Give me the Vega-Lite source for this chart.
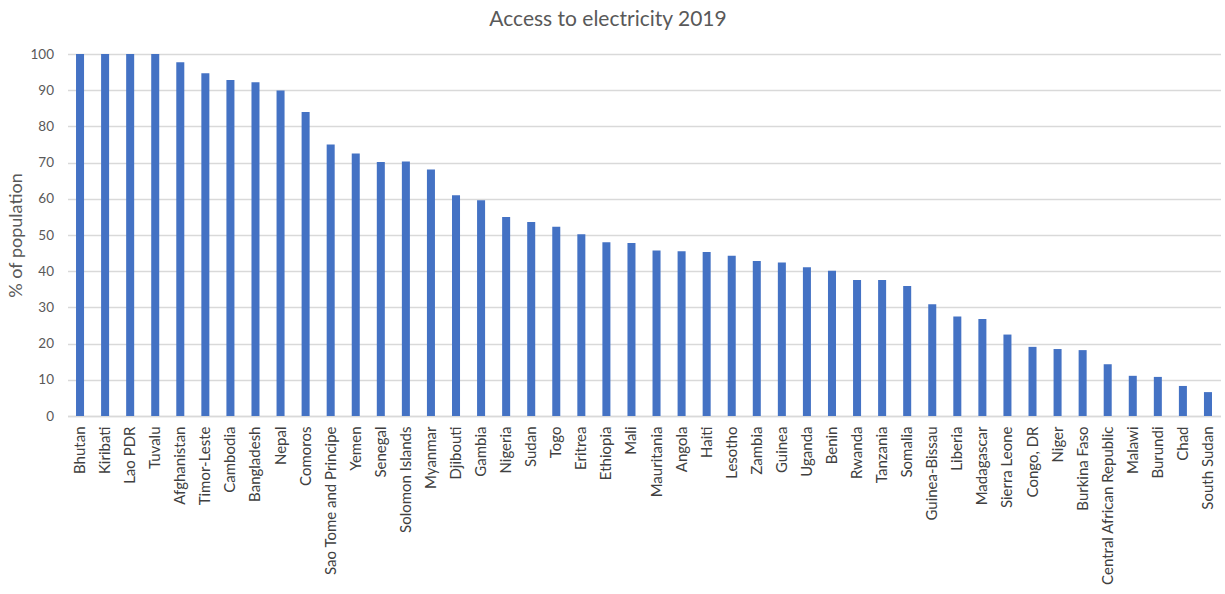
{
  "$schema": "https://vega.github.io/schema/vega-lite/v6.json",
  "width": 1153,
  "height": 362,
  "autosize": "none",
  "padding": {"left": 67.5, "top": 54, "right": 4.5, "bottom": 178},
  "background": "white",
  "title": {"text": "Access to electricity 2019", "font": "Lato", "fontSize": 21, "fontWeight": "normal", "color": "#595959", "offset": 17, "dx": -36},
  "config": {"view": {"stroke": null}},
  "data": {"values": [
    {"country": "Bhutan", "value": 100},
    {"country": "Kiribati", "value": 100},
    {"country": "Lao PDR", "value": 100},
    {"country": "Tuvalu", "value": 100},
    {"country": "Afghanistan", "value": 97.7},
    {"country": "Timor-Leste", "value": 94.7},
    {"country": "Cambodia", "value": 92.8},
    {"country": "Bangladesh", "value": 92.2},
    {"country": "Nepal", "value": 89.9},
    {"country": "Comoros", "value": 84.0},
    {"country": "Sao Tome and Principe", "value": 75.0},
    {"country": "Yemen", "value": 72.5},
    {"country": "Senegal", "value": 70.2},
    {"country": "Solomon Islands", "value": 70.3},
    {"country": "Myanmar", "value": 68.1},
    {"country": "Djibouti", "value": 61.0},
    {"country": "Gambia", "value": 59.6},
    {"country": "Nigeria", "value": 55.0},
    {"country": "Sudan", "value": 53.6},
    {"country": "Togo", "value": 52.3},
    {"country": "Eritrea", "value": 50.2},
    {"country": "Ethiopia", "value": 48.0},
    {"country": "Mali", "value": 47.8},
    {"country": "Mauritania", "value": 45.7},
    {"country": "Angola", "value": 45.5},
    {"country": "Haiti", "value": 45.3},
    {"country": "Lesotho", "value": 44.3},
    {"country": "Zambia", "value": 42.8},
    {"country": "Guinea", "value": 42.4},
    {"country": "Uganda", "value": 41.1},
    {"country": "Benin", "value": 40.1},
    {"country": "Rwanda", "value": 37.6},
    {"country": "Tanzania", "value": 37.6},
    {"country": "Somalia", "value": 35.9},
    {"country": "Guinea-Bissau", "value": 30.9},
    {"country": "Liberia", "value": 27.5},
    {"country": "Madagascar", "value": 26.8},
    {"country": "Sierra Leone", "value": 22.5},
    {"country": "Congo, DR", "value": 19.1},
    {"country": "Niger", "value": 18.5},
    {"country": "Burkina Faso", "value": 18.2},
    {"country": "Central African Republic", "value": 14.3},
    {"country": "Malawi", "value": 11.1},
    {"country": "Burundi", "value": 10.8},
    {"country": "Chad", "value": 8.3},
    {"country": "South Sudan", "value": 6.6}
  ]},
  "mark": {"type": "bar", "color": "#4472C4"},
  "encoding": {
    "x": {
      "field": "country", "type": "nominal", "sort": null,
      "scale": {"paddingInner": 0.68, "paddingOuter": 0.34},
      "axis": {"title": null, "labelAngle": -90, "labelFont": "Lato", "labelFontSize": 15, "labelColor": "#404040", "labelPadding": 10, "ticks": false, "domainColor": "#D9D9D9", "domainWidth": 1.5, "labelOverlap": false, "labelLimit": 250}
    },
    "y": {
      "field": "value", "type": "quantitative",
      "scale": {"domain": [0, 100], "nice": false},
      "axis": {"title": "% of population", "titleFont": "Lato", "titleFontSize": 18, "titleFontWeight": "normal", "titleColor": "#595959", "titlePadding": 5, "values": [0,10,20,30,40,50,60,70,80,90,100], "labelFont": "Lato", "labelFontSize": 13.5, "labelColor": "#595959", "labelPadding": 14, "ticks": false, "domain": false, "gridColor": "#D9D9D9", "gridWidth": 1.5}
    }
  }
}
